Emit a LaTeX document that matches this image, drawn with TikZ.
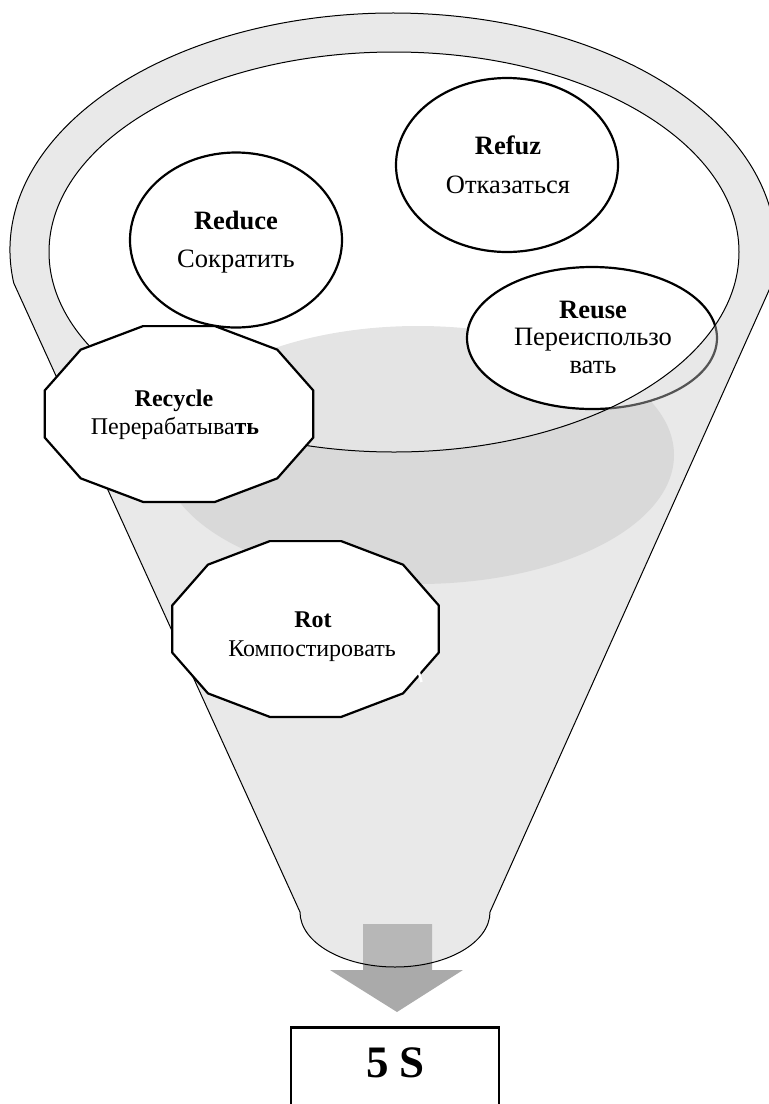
\documentclass[tikz,border=0pt]{standalone}
\usepackage{fontspec}
\setmainfont{Liberation Serif}
\usetikzlibrary{shapes.geometric}
\definecolor{liquid}{gray}{0.894}
\definecolor{band}{gray}{0.792}
\definecolor{arrowgray}{gray}{0.667}
\tikzset{
  lbl/.style={anchor=base, inner sep=0pt, font=\fontsize{24}{28}\selectfont},
  biglbl/.style={anchor=base, inner sep=0pt, font=\fontsize{26.5}{30}\selectfont},
  shapeline/.style={draw=black, line width=2.2pt, fill=white},
  oval/.style={shapeline, ellipse, inner sep=0pt},
  thinline/.style={draw=black, line width=1pt},
  boxstyle/.style={draw=black, line width=2.6pt, fill=white, inner sep=0pt},
}
\begin{document}
\begin{tikzpicture}[x=1pt,y=-1pt]
\useasboundingbox (0,0) rectangle (769,1104);
% liquid
\fill[liquid] (418,455) ellipse[x radius=256, y radius=129];
% oval nodes
\node[oval, minimum width=222pt, minimum height=174pt] (refuz) at (507,165) {};
\node[oval, minimum width=212pt, minimum height=175pt] (reduce) at (236,240) {};
\node[oval, minimum width=250pt, minimum height=142pt] (reuse) at (592,338) {};
% arrow
\coordinate (tip) at (397,1012);
\fill[arrowgray] (363,924) -- (432,924) -- (432,970) -- (463,970) -- (tip) -- (330,970) -- (363,970) -- cycle;
% funnel band (semi-transparent)
\coordinate (jl) at (13.73,282.98);
\path[fill=band, fill opacity=0.42, even odd rule]
  (jl) arc[start angle=172, end angle=368, x radius=383, y radius=237]
  -- (490,912) arc[start angle=0, end angle=180, x radius=95, y radius=55] -- cycle
  (394,252) ellipse[x radius=345, y radius=200];
\draw[thinline] (jl) arc[start angle=172, end angle=368, x radius=383, y radius=237]
  -- (490,912) arc[start angle=0, end angle=180, x radius=95, y radius=55] -- cycle;
\draw[thinline] (394,252) ellipse[x radius=345, y radius=200];
% recycle dodecagon
\coordinate (recycle) at (179,414);
\begin{scope}[shift={(recycle)}]
\draw[shapeline] (15:139 and 91) \foreach \a in {45,75,...,345}{ -- (\a:139 and 91)} -- cycle;
\end{scope}
% rot dodecagon
\coordinate (rot) at (305.5,629);
\begin{scope}[shift={(rot)}]
\draw[shapeline] (15:138 and 91) \foreach \a in {45,75,...,345}{ -- (\a:138 and 91)} -- cycle;
\end{scope}
\draw[white, line width=2.5pt] (418.5,671) -- (421.5,682);
% box
\node[boxstyle, minimum width=208pt, minimum height=110pt, anchor=north] (box) at (395,1026) {};
% labels
\node[biglbl] (refuzA) at (508,154) {\textbf{Refuz}};
\node[biglbl] (refuzB) at (508,193) {Отказаться};
\node[biglbl] (reduceA) at (236,229) {\textbf{Reduce}};
\node[biglbl] (reduceB) at (236,267) {Сократить};
\node[biglbl] (reuseA) at (593,318) {\textbf{Reuse}};
\node[biglbl] (reuseB) at (593,345) {Переиспользо};
\node[biglbl] (reuseC) at (593,373) {вать};
\node[lbl] (recycleA) at (174,406) {\textbf{Recycle}};
\node[lbl] (recycleB) at (175,434) {Перерабатыва\textbf{ть}};
\node[lbl] (rotA) at (313,627) {\textbf{Rot}};
\node[lbl] (rotB) at (312,656) {Компостировать};
\node[anchor=base, inner sep=0pt, font=\fontsize{45}{50}\selectfont\bfseries] (fiveS) at (395.5,1077) {5 S};
\end{tikzpicture}
\end{document}
